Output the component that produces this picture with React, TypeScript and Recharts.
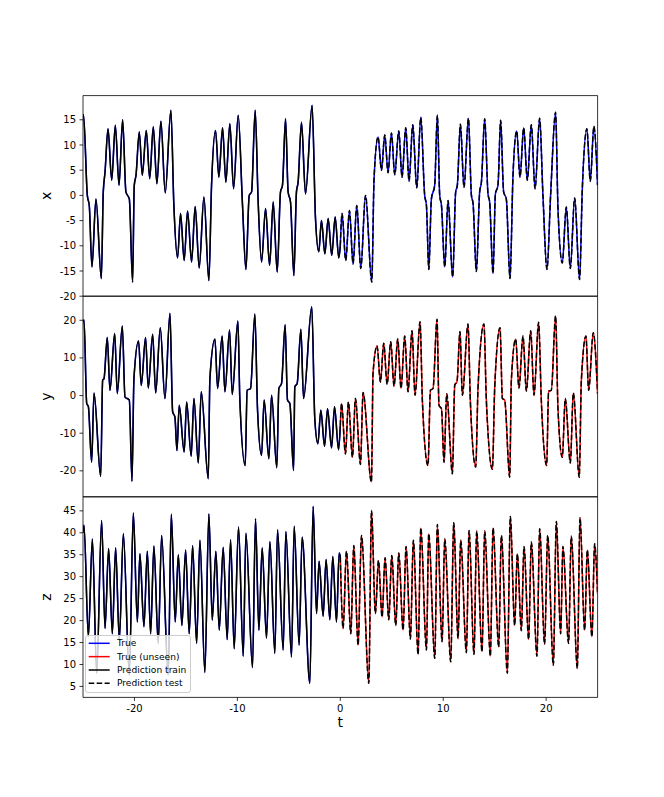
import React from 'react';
import { LineChart, Line, XAxis, YAxis, ReferenceArea, Legend, Label } from 'recharts';

// ---------- data ----------
const xT = [-25.0,-24.95,-24.58,-24.39,-24.13,-23.74,-23.22,-23.03,-22.86,-22.57,-22.21,-21.86,-21.5,-21.15,-20.83,-20.5,-20.18,-20.02,-19.85,-19.53,-19.24,-18.85,-18.52,-18.17,-17.82,-17.43,-17.01,-16.46,-16.17,-15.81,-15.52,-15.17,-14.84,-14.45,-14.1,-13.71,-13.25,-12.77,-12.51,-12.12,-11.8,-11.44,-11.12,-10.73,-10.37,-9.92,-9.5,-9.17,-8.85,-8.62,-8.27,-7.98,-7.65,-7.26,-6.87,-6.52,-6.13,-5.81,-5.62,-5.32,-5.07,-4.84,-4.51,-4.26,-4.1,-3.77,-3.38,-2.74,-2.41,-2.09,-1.83,-1.5,-1.18,-0.83,-0.5,-0.15,0,0.17,0.53,0.89,1.24,1.6,1.99,2.45,3.06,3.28,3.67,4.0,4.32,4.64,4.97,5.29,5.68,6.0,6.36,6.68,7.04,7.43,7.82,8.2,8.37,8.6,8.85,9.17,9.43,9.66,9.83,10.15,10.47,10.92,11.21,11.37,11.67,12.02,12.45,12.74,12.9,13.22,13.54,13.71,14.03,14.35,14.51,14.84,15.07,15.32,15.58,15.87,16.13,16.49,16.78,17.14,17.46,17.82,18.17,18.56,18.92,19.37,19.69,20.08,20.44,20.92,21.15,21.57,21.96,22.35,22.77,23.25,23.51,23.96,24.29,24.64,25.0];
const xV = [15.5,16.0,0.0,-2.0,-14.2,-0.7,-16.5,0.7,4.6,13.2,3.0,13.9,2.0,15.0,0.7,-0.7,-17.2,2.0,4.0,12.6,4.0,12.9,3.3,13.6,2.3,14.7,0.5,16.9,-2.0,-12.4,-3.6,-12.9,-3.1,-13.2,-2.2,-14.4,-0.3,-16.9,2.0,12.9,3.6,13.4,2.6,14.2,1.3,15.9,-2.0,-14.7,0.0,0.7,16.9,-1.3,-13.2,-2.6,-13.9,-1.3,-15.2,0.7,2.0,15.2,0.7,-1.3,-15.9,0.7,2.6,14.5,0.3,17.9,-4.6,-11.2,-5.0,-11.6,-4.6,-11.9,-4.3,-12.4,-10.0,-3.6,-12.9,-3.0,-13.6,-2.0,-14.5,0.0,-17.2,3.3,11.6,5.0,12.0,4.5,12.4,4.1,12.8,3.6,13.4,2.8,14.0,1.5,15.5,0.0,-2.0,-14.7,-0.7,2.0,15.9,0.0,-2.0,-14.2,-1.0,-16.2,0.7,2.0,14.1,1.6,15.3,0.0,-1.6,-15.1,0.7,2.6,15.2,0.3,-1.3,-15.5,0.3,2.0,14.9,0.7,-0.7,-16.5,4.0,12.8,3.6,13.4,3.0,14.0,1.3,15.3,0.0,-14.7,0.3,16.5,-2.6,-13.4,-2.3,-14.5,-0.5,-16.7,1.0,13.2,2.8,13.7,2.0];

const yT = [-25.0,-24.9,-24.64,-24.48,-24.16,-23.93,-23.28,-23.09,-22.96,-22.64,-22.38,-21.92,-21.67,-21.18,-20.92,-20.5,-20.24,-20.05,-19.6,-19.34,-18.92,-18.66,-18.23,-17.94,-17.49,-17.04,-16.55,-16.29,-16.07,-15.87,-15.65,-15.17,-14.93,-14.49,-14.22,-13.8,-13.51,-12.83,-12.67,-12.18,-11.92,-11.48,-11.21,-10.76,-10.5,-9.95,-9.76,-9.24,-9.05,-8.72,-8.3,-8.04,-7.65,-7.4,-6.94,-6.68,-6.17,-5.97,-5.71,-5.36,-5.13,-4.9,-4.54,-4.42,-4.19,-3.83,-3.57,-2.77,-2.48,-2.18,-1.89,-1.53,-1.24,-0.85,-0.56,-0.17,0,0.12,0.5,0.79,1.18,1.47,1.96,2.21,3.03,3.18,3.57,3.9,4.22,4.55,4.9,5.22,5.58,5.9,6.26,6.58,6.97,7.26,7.75,7.98,8.52,8.76,9.01,9.4,9.59,9.83,10.08,10.34,10.89,11.12,11.34,11.63,11.86,12.41,12.64,13.16,13.38,13.96,14.19,14.78,15.0,15.52,15.75,15.97,16.46,16.62,17.04,17.36,17.75,18.08,18.5,18.82,19.27,19.53,20.05,20.24,20.5,20.92,21.15,21.57,21.86,22.35,22.64,23.22,23.42,23.87,24.13,24.58,25.0];
const yV = [19.5,20.1,-2.1,-2.9,-17.7,0.7,-21.5,4.1,4.5,15.4,1.4,16.5,0.5,18.5,-0.4,-1.2,-22.8,4.5,14.5,2.7,15.4,2.0,16.3,0.7,18.0,-0.8,21.9,-4.3,-5.7,-14.6,-2.6,-15.0,-1.7,-16.1,-0.8,-17.9,1.0,-22.1,4.5,15.0,1.9,15.8,1.0,17.4,0.3,19.8,-1.2,-18.6,1.4,1.9,21.7,-3.9,-15.9,-1.2,-16.8,0.1,-19.2,1.9,3.2,18.8,-1.2,-2.1,-19.9,2.3,3.2,17.6,-0.8,23.6,-6.1,-12.8,-3.9,-13.5,-3.5,-13.9,-3.0,-14.4,-8.0,-2.1,-15.5,-1.7,-16.4,-0.8,-18.3,0.8,-23.0,5.9,13.2,3.6,13.9,3.0,14.3,2.5,15.0,1.9,15.8,1.0,17.2,0.1,19.6,-1.7,-18.6,1.4,1.9,20.3,-2.6,-3.5,-17.7,0.5,-20.8,2.8,3.7,17.0,0.1,19.0,-1.7,-19.0,1.9,19.0,-1.2,-19.6,1.9,18.0,-0.8,-1.2,-21.7,4.1,15.0,2.0,15.8,1.2,17.2,0.1,19.5,-1.2,-18.6,1.2,1.4,21.2,-3.5,-16.4,-0.8,-17.9,0.7,-21.7,3.9,15.8,1.4,16.7,0.5];

const zT = [-25.0,-24.9,-24.48,-24.09,-23.67,-23.19,-22.86,-22.51,-22.15,-21.83,-21.47,-21.08,-20.5,-20.11,-19.72,-19.47,-19.08,-18.75,-18.43,-18.11,-17.69,-17.36,-16.72,-16.42,-16.04,-15.74,-15.39,-15.03,-14.68,-14.35,-13.96,-13.64,-13.16,-12.77,-12.44,-12.09,-11.76,-11.38,-10.99,-10.66,-10.31,-9.89,-9.43,-9.17,-8.53,-8.24,-7.91,-7.59,-7.17,-6.84,-6.36,-6.1,-5.55,-5.29,-4.74,-4.48,-4.0,-3.71,-2.96,-2.64,-2.31,-2.06,-1.67,-1.38,-1.02,-0.73,-0.37,-0.11,0,0.27,0.6,1.02,1.31,1.73,2.06,2.77,3.03,3.41,3.71,4.06,4.35,4.71,5.0,5.39,5.68,6.1,6.39,6.81,7.1,7.56,7.82,8.37,8.59,9.18,9.43,9.89,10.15,10.73,11.02,11.44,11.7,12.25,12.51,12.99,13.25,13.77,14.03,14.58,14.84,15.39,15.65,16.23,16.52,16.94,17.2,17.59,17.85,18.3,18.56,19.11,19.37,19.85,20.15,20.7,20.99,21.41,21.63,22.18,22.44,23.03,23.29,23.74,24.0,24.45,24.71,25.0];
const zV = [40.0,41.7,16.3,38.6,8.0,42.8,18.2,36.4,17.0,36.6,15.5,39.8,7.6,44.5,19.7,35.2,18.6,35.8,17.0,37.0,14.8,39.4,7.6,44.2,19.7,35.0,18.9,36.1,17.0,37.1,14.8,38.3,8.2,44.3,20.1,35.8,17.8,36.7,15.7,38.4,13.6,41.3,11.9,39.9,9.3,43.2,17.8,36.6,16.0,38.0,12.5,40.7,13.3,40.3,11.7,41.5,14.4,39.0,5.7,46.0,21.6,33.5,21.0,33.9,20.2,34.6,19.7,35.4,34.5,18.2,35.8,17.0,37.1,14.4,39.4,5.7,45.1,21.6,33.7,20.8,34.3,20.2,34.8,18.9,35.4,17.8,36.9,15.8,38.3,12.3,41.1,13.3,39.8,11.4,41.9,15.2,38.6,10.6,42.3,15.9,38.3,12.7,40.5,12.3,40.4,12.9,40.4,11.9,41.1,14.0,39.4,8.0,43.7,18.9,35.2,17.7,36.9,15.7,37.9,11.9,40.9,14.6,39.4,9.8,42.6,17.0,36.9,14.8,39.2,9.1,43.4,17.8,36.1,16.3,37.5,26.0];

const xTicksX = [-20, -10, 0, 10, 20];
const xPanelTicks = [-20, -15, -10, -5, 0, 5, 10, 15];
const yPanelTicks = [-20, -10, 0, 10, 20];
const zPanelTicks = [5, 10, 15, 20, 25, 30, 35, 40, 45];

const legendItems = [
  { label: 'True', color: '#0000ff', dash: '' },
  { label: 'True (unseen)', color: '#ff0000', dash: '' },
  { label: 'Prediction train', color: '#000000', dash: '' },
  { label: 'Prediction test', color: '#000000', dash: '5.55 2.4' },
];

// ---------- layout / style ----------
const W = 664;
const FONT = '"DejaVu Sans", sans-serif';
const LW = 1.5;
const DASH = '5.55 2.4';

type Pt = { t: number; v: number };
const toPts = (T: number[], V: number[]): Pt[] => T.map((t, i) => ({ t, v: V[i] }));

const tickStyle = { fontSize: 10, fill: '#000', fontFamily: FONT };

function YLabel(text: string) {
  return (props: any) => {
    const vb = props.viewBox || { x: 43, y: 0, width: 40, height: 200 };
    const cx = vb.x + 3;
    const cy = vb.y + vb.height / 2;
    return (
      <text
        x={cx}
        y={cy}
        transform={`rotate(-90 ${cx} ${cy})`}
        textAnchor="middle"
        dominantBaseline="central"
        fontSize={14}
        fontFamily={FONT}
        fill="#000"
      >
        {text}
      </text>
    );
  };
}

function XLabel(props: any) {
  const vb = props.viewBox || { x: 83, y: 201, width: 515, height: 40 };
  return (
    <text
      x={vb.x + vb.width / 2}
      y={vb.y + 24.5}
      textAnchor="middle"
      dominantBaseline="central"
      fontSize={14}
      fontFamily={FONT}
      fill="#000"
    >
      t
    </text>
  );
}

function LegendBox() {
  return (
    <div
      style={{
        width: 106,
        height: 58,
        boxSizing: 'border-box',
        background: 'rgba(255,255,255,0.8)',
        border: '1px solid #cccccc',
        borderRadius: 3,
        position: 'relative',
      }}
    >
      <svg width={106} height={58} style={{ position: 'absolute', left: -1, top: -1 }}>
        {legendItems.map((it, i) => {
          const y = 8.3 + i * 13.35;
          return (
            <g key={it.label}>
              <line x1={3.7} x2={24.7} y1={y} y2={y} stroke={it.color} strokeWidth={LW} strokeDasharray={it.dash || undefined} />
              <text x={32} y={y} dominantBaseline="central" fontSize={9.1} fontFamily={FONT} fill="#000">
                {it.label}
              </text>
            </g>
          );
        })}
      </svg>
    </div>
  );
}

type PanelProps = {
  top: number;
  height: number;
  margin: { top: number; right: number; bottom: number; left: number };
  domain: [number, number];
  ticks: number[];
  label: string;
  pts: Pt[];
  unseenColor: string;
  bottomPanel?: boolean;
};

function Panel({ top, height, margin, domain, ticks, label, pts, unseenColor, bottomPanel }: PanelProps) {
  const train = pts.filter((p) => p.t <= 0);
  const test = pts.filter((p) => p.t >= 0);
  return (
    <div style={{ position: 'absolute', left: 0, top, width: W, height }}>
      <LineChart width={W} height={height} margin={margin} style={{ overflow: 'visible' }}>
        <XAxis
          type="number"
          dataKey="t"
          domain={[-25, 25]}
          allowDataOverflow
          hide={!bottomPanel}
          ticks={xTicksX}
          interval={0}
          height={40}
          tickSize={3.5}
          tickMargin={3.5}
          axisLine={false}
          tickLine={{ stroke: '#000', strokeWidth: 0.8 }}
          tick={tickStyle}
        >
          {bottomPanel ? <Label content={XLabel} /> : null}
        </XAxis>
        <YAxis
          type="number"
          dataKey="v"
          domain={domain}
          allowDataOverflow
          ticks={ticks}
          interval={0}
          width={40}
          tickSize={3.5}
          tickMargin={3.5}
          axisLine={false}
          tickLine={{ stroke: '#000', strokeWidth: 0.8 }}
          tick={tickStyle}
        >
          <Label content={YLabel(label)} />
        </YAxis>
        <Line data={train} dataKey="v" type="monotone" stroke="#0000ff" strokeWidth={LW} dot={false} activeDot={false} isAnimationActive={false} />
        <Line data={test} dataKey="v" type="monotone" stroke={unseenColor} strokeWidth={LW} dot={false} activeDot={false} isAnimationActive={false} />
        <Line data={train} dataKey="v" type="monotone" stroke="#000000" strokeWidth={LW} dot={false} activeDot={false} isAnimationActive={false} />
        <Line data={test} dataKey="v" type="monotone" stroke="#000000" strokeWidth={LW} strokeDasharray={DASH} dot={false} activeDot={false} isAnimationActive={false} />
        <ReferenceArea x1={-25} x2={25} y1={domain[0]} y2={domain[1]} fill="none" fillOpacity={0} stroke="#000" strokeWidth={0.8} ifOverflow="visible" />
        {bottomPanel ? (
          <Legend
            layout="vertical"
            verticalAlign="middle"
            align="center"
            wrapperStyle={{ left: 85, top: 144, width: 106, height: 58 }}
            content={() => <LegendBox />}
          />
        ) : null}
      </LineChart>
    </div>
  );
}

export default function App() {
  const xPts = toPts(xT, xV);
  const yPts = toPts(yT, yV);
  const zPts = toPts(zT, zV);
  return (
    <div style={{ position: 'absolute', left: 0, top: 0, width: W, height: 797, background: '#fff' }}>
      <Panel
        top={0}
        height={301}
        margin={{ top: 95.6, right: 66.4, bottom: 4.8, left: 43 }}
        domain={[-20, 19.8]}
        ticks={xPanelTicks}
        label="x"
        pts={xPts}
        unseenColor="#0000ff"
      />
      <Panel
        top={291}
        height={211}
        margin={{ top: 5.2, right: 66.4, bottom: 5.2, left: 43 }}
        domain={[-26.9, 26.4]}
        ticks={yPanelTicks}
        label="y"
        pts={yPts}
        unseenColor="#ff0000"
      />
      <Panel
        top={491}
        height={306}
        margin={{ top: 5.8, right: 66.4, bottom: 59.6, left: 43 }}
        domain={[2.5, 48.2]}
        ticks={zPanelTicks}
        label="z"
        pts={zPts}
        unseenColor="#ff0000"
        bottomPanel
      />
    </div>
  );
}
